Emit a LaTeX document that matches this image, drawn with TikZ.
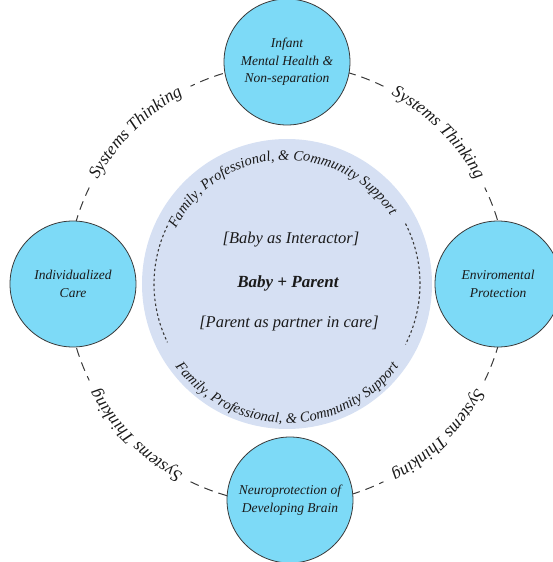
\documentclass[tikz,border=0pt]{standalone}
\usepackage{fontspec}
\setmainfont{Liberation Serif}
\definecolor{nodefill}{HTML}{7DDAF7}
\definecolor{innerfill}{HTML}{D6E0F3}
\definecolor{txt}{HTML}{1A1A1A}
\definecolor{ringcol}{HTML}{3A3A3A}
\newdimen\myarcwidth
\newdimen\myarcpos
\newbox\mycharbox
% #1 centre angle, #2 radius (pt), #3 +1 clockwise / -1 counter-clockwise, #4 font, #5 characters
\newcommand\arctext[5]{%
  \global\myarcwidth=0pt
  \foreach \mych in {#5}{\global\setbox\mycharbox\hbox{\pgfinterruptpicture#4\mych\endpgfinterruptpicture}\global\advance\myarcwidth by \wd\mycharbox\relax}%
  \global\myarcpos=0pt
  \foreach \mych in {#5}{%
    \global\setbox\mycharbox\hbox{\pgfinterruptpicture#4\mych\endpgfinterruptpicture}%
    \xdef\mycw{\the\wd\mycharbox}\xdef\mycp{\the\myarcpos}\xdef\mycW{\the\myarcwidth}%
    \global\advance\myarcpos by \wd\mycharbox\relax
    \pgfmathsetmacro\myang{#1 + (#3)*(0.5*\mycW - \mycp - 0.5*\mycw)/(#2)*180/pi}%
    \pgfmathsetmacro\myrot{\myang - (#3)*90}%
    \node[rotate=\myrot, anchor=base, inner sep=0pt, outer sep=0pt, font={#4}] at (\myang:#2pt) {\mych};
  }%
}
\begin{document}
\begin{tikzpicture}[x=1pt,y=1pt,
  topic/.style={circle, draw=ringcol, line width=0.8pt, fill=nodefill, minimum size=126pt, inner sep=0pt, align=center, font=\itshape\fontsize{13.5}{17.5}\selectfont, text=txt},
  ring/.style={draw=ringcol, line width=1pt, dash pattern=on 9pt off 6pt},
  innerdash/.style={draw=ringcol, line width=1.1pt, dash pattern=on 2.5pt off 2.5pt},
  centertext/.style={anchor=base, text=txt, inner sep=0pt, font=\itshape\fontsize{16.5}{20}\selectfont},
]
\path[use as bounding box] (-287,-278) rectangle (266,284);
\coordinate (c) at (0,0);
\fill[innerfill] (c) circle[radius=145pt];
% outer dashed ring
\foreach \a in {64,154,244,334}
  \draw[ring] ([shift={(\a:220pt)}]c) arc[start angle=\a, end angle=\a+52, radius=220pt];
% inner dashed arcs
\draw[innerdash] ([shift={(27:133pt)}]c) arc[start angle=27, end angle=-27, radius=133pt];
\draw[innerdash] ([shift={(154:133pt)}]c) arc[start angle=154, end angle=206, radius=133pt];
% Systems Thinking texts
\foreach \m in {135,45,-45,-135}{
  \arctext{\m}{216}{1}{\itshape\fontsize{17.5}{20}\selectfont\color{txt}}{S,y,s,t,e,m,s,\ ,T,h,i,n,k,i,n,g}
}
% inner arc texts
\arctext{93.5}{124}{1}{\itshape\fontsize{14.5}{16}\selectfont\color{txt}}{F,a,m,i,l,y,{,},\ ,P,r,o,f,e,s,s,i,o,n,a,l,{,},\ ,\&,\ ,C,o,m,m,u,n,i,t,y,\ ,S,u,p,p,o,r,t}
\arctext{270}{139}{-1}{\itshape\fontsize{14.5}{16}\selectfont\color{txt}}{F,a,m,i,l,y,{,},\ ,P,r,o,f,e,s,s,i,o,n,a,l,{,},\ ,\&,\ ,C,o,m,m,u,n,i,t,y,\ ,S,u,p,p,o,r,t}
% center texts
\node[centertext] (inter) at (4,41) {[Baby as Interactor]};
\node[centertext, font=\bfseries\itshape\fontsize{17}{20}\selectfont] (bp) at (1,-3) {Baby + Parent};
\node[centertext] (partner) at (2,-43) {[Parent as partner in care]};
% outer nodes
\node[topic] (imh) at (0,222) {Infant\\Mental Health \&\\Non-separation};
\node[topic] (ic) at (-214,0) {Individualized\\Care};
\node[topic] (ep) at (211,0) {Enviromental\\Protection};
\node[topic] (nb) at (3,-216) {Neuroprotection of\\Developing Brain};
\end{tikzpicture}
\end{document}
